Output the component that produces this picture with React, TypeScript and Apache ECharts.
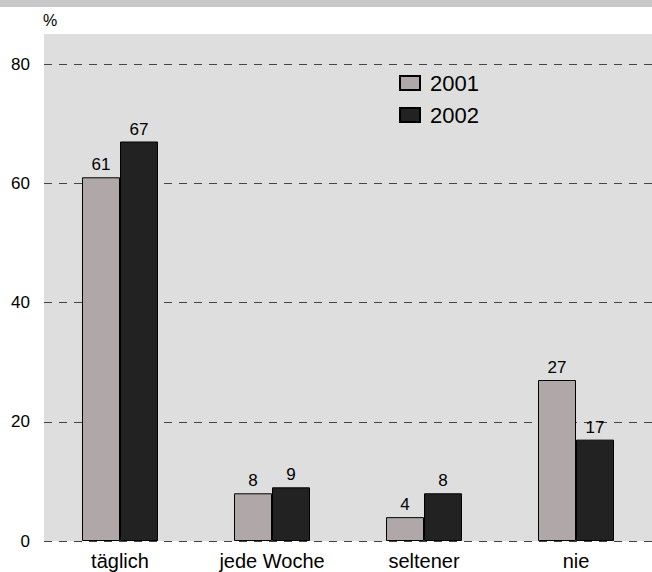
import React, { useEffect, useRef } from "react";
import * as echarts from "echarts";

const categories = ["täglich", "jede Woche", "seltener", "nie"];
const values2001 = [61, 8, 4, 27];
const values2002 = [67, 9, 8, 17];
const seriesNames = ["2001", "2002"];
const yTicks = [0, 20, 40, 60, 80];

export default function App() {
  const ref = useRef<HTMLDivElement>(null);
  useEffect(() => {
    if (!ref.current) return;
    const chart = echarts.init(ref.current, null, { renderer: "svg" });
    const font = "'Liberation Sans', Arial, sans-serif";
    const labelStyle = {
      show: true,
      position: "top" as const,
      distance: 4,
      fontSize: 17,
      color: "#000",
      fontFamily: font,
    };
    chart.setOption({
      animation: false,
      backgroundColor: "#ffffff",
      textStyle: { fontFamily: font },
      graphic: [
        { type: "rect", left: 0, top: 0, shape: { width: 652, height: 7 }, style: { fill: "#c8c8c8" } },
        { type: "rect", left: 44, top: 34, shape: { width: 608, height: 30 }, style: { fill: "#dedede" }, z: -1 },
        { type: "text", left: 43, top: 12, style: { text: "%", fontSize: 16, fill: "#000", fontFamily: font } },
      ],
      legend: {
        orient: "vertical",
        left: 394,
        top: 67,
        itemWidth: 20,
        itemHeight: 14,
        itemGap: 10,
        icon: "rect",
        data: seriesNames,
        textStyle: { fontSize: 22, color: "#000", fontFamily: font, padding: [0, 0, 0, 5] },
      },
      grid: {
        left: 44,
        right: 0,
        top: 64,
        bottom: 31,
        show: true,
        backgroundColor: "#dedede",
        borderWidth: 0,
      },
      xAxis: {
        type: "category",
        data: categories,
        axisLine: { show: false },
        axisTick: { show: false },
        axisLabel: { fontSize: 20, color: "#000", margin: 10, fontFamily: font },
      },
      yAxis: {
        type: "value",
        min: 0,
        max: 80,
        interval: 20,
        axisLine: { show: false },
        axisTick: { show: false },
        axisLabel: {
          fontSize: 17,
          color: "#000",
          margin: 14,
          fontFamily: font,
          formatter: (v: number) => (yTicks.includes(v) ? String(v) : ""),
        },
        splitLine: { show: true, lineStyle: { type: [8, 7], color: "#444", width: 1 } },
      },
      series: [
        {
          name: seriesNames[0],
          type: "bar",
          data: values2001,
          barWidth: 38,
          barGap: "0%",
          itemStyle: { color: "#b0a8a8", borderColor: "#000", borderWidth: 1 },
          label: labelStyle,
        },
        {
          name: seriesNames[1],
          type: "bar",
          data: values2002,
          barWidth: 38,
          itemStyle: { color: "#222222", borderColor: "#000", borderWidth: 1 },
          label: labelStyle,
        },
      ],
    });
    return () => chart.dispose();
  }, []);
  return (
    <div
      ref={ref}
      style={{ position: "fixed", left: 0, top: 0, width: 652, height: 572 }}
    />
  );
}
